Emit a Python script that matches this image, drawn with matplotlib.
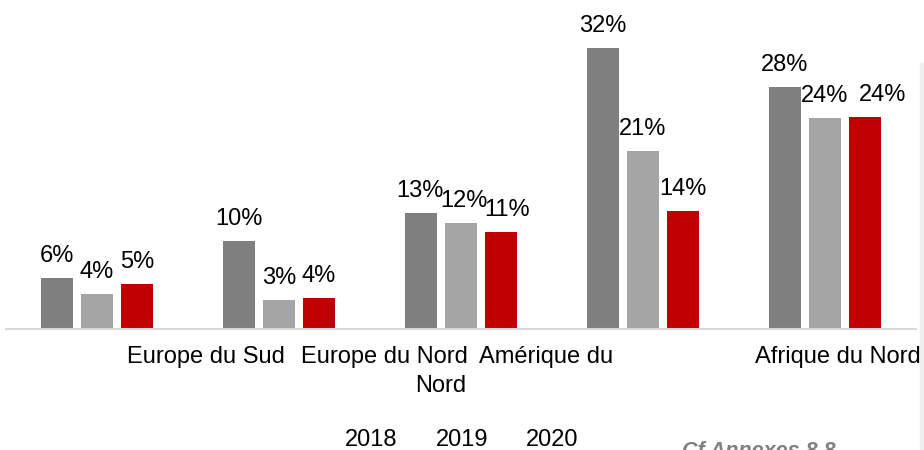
import matplotlib
matplotlib.use("Agg")
import matplotlib.pyplot as plt
import numpy as np

plt.rcParams['font.family'] = ['Liberation Sans', 'DejaVu Sans']

series = ["2018", "2019", "2020"]
v2018 = [5.8, 10.0, 13.2, 32.0, 27.6]
v2019 = [4.0, 3.3, 12.1, 20.3, 24.0]
v2020 = [5.1, 3.5, 11.0, 13.4, 24.1]
lab2018 = ["6%", "10%", "13%", "32%", "28%"]
lab2019 = ["4%", "3%", "12%", "21%", "24%"]
lab2020 = ["5%", "4%", "11%", "14%", "24%"]
cat_labels = ["Europe du Sud", "Europe du Nord", "Amérique du", "Nord", "Afrique du Nord"]
cat_pos = [0.60, 1.58, 2.47, 1.89, 4.07]
cat_line = [0, 0, 0, 1, 0]
colors = ["#7f7f7f", "#a5a5a5", "#c00000"]
note = "Cf Annexes 8.8"

# horizontal nudges (pixels) of data labels, as placed in the original
nudge = [[0, 0, -1, 0, 0],
         [0, 0, 3, 0, 0],
         [0, 0, 6, 0, 18]]

W, H = 924, 450
fig = plt.figure(figsize=(W / 100, H / 100), dpi=100)
ax_left, ax_right = 6 / W, 916 / W
ax_bottom = (H - 329) / H
ax_top = (H - 10) / H
ax = fig.add_axes([ax_left, ax_bottom, ax_right - ax_left, ax_top - ax_bottom])

x = np.arange(len(v2018))
bw = 32 / 182
step = 40 / 182
data = [v2018, v2019, v2020]
labs = [lab2018, lab2019, lab2020]
FS = 17
for i, (vals, lab, c) in enumerate(zip(data, labs, colors)):
    xs = x + (i - 1) * step
    ax.bar(xs, vals, width=bw, color=c, zorder=2)
    for j, (xi, v, t) in enumerate(zip(xs, vals, lab)):
        ax.annotate(t, (xi, v), xytext=(nudge[i][j], 16), textcoords="offset pixels",
                    ha="center", va="baseline", fontsize=FS, color="#000000")

ax.set_xlim(-0.5, 4.5)
ax.set_ylim(0, 319 / 8.78)
for s in ["top", "right", "left"]:
    ax.spines[s].set_visible(False)
ax.spines["bottom"].set_color("#d9d9d9")
ax.spines["bottom"].set_linewidth(1.5)
ax.set_yticks([])
ax.set_xticks([])

# category labels
for t, p, ln in zip(cat_labels, cat_pos, cat_line):
    ax.annotate(t, (p, 0), xytext=(0, -34 - 29 * ln), textcoords="offset pixels",
                ha="center", va="baseline", fontsize=FS, color="#000000",
                annotation_clip=False)

# legend-like labels
leg_x = [371, 462, 552]
for s, lx in zip(series, leg_x):
    fig.text(lx / W, (H - 446) / H, s, ha="center", va="baseline", fontsize=FS, color="#000000")

fig.text(682 / W, (H - 457) / H, note, ha="left", va="baseline", fontsize=15.5,
         fontweight="bold", fontstyle="italic", color="#808080")

# right gray panel
fig.patches.append(plt.Rectangle((920 / W, 0), 4 / W, (H - 63) / H,
                                 transform=fig.transFigure, color="#f0f0f0", zorder=0))

fig.savefig("out.png", dpi=100)
